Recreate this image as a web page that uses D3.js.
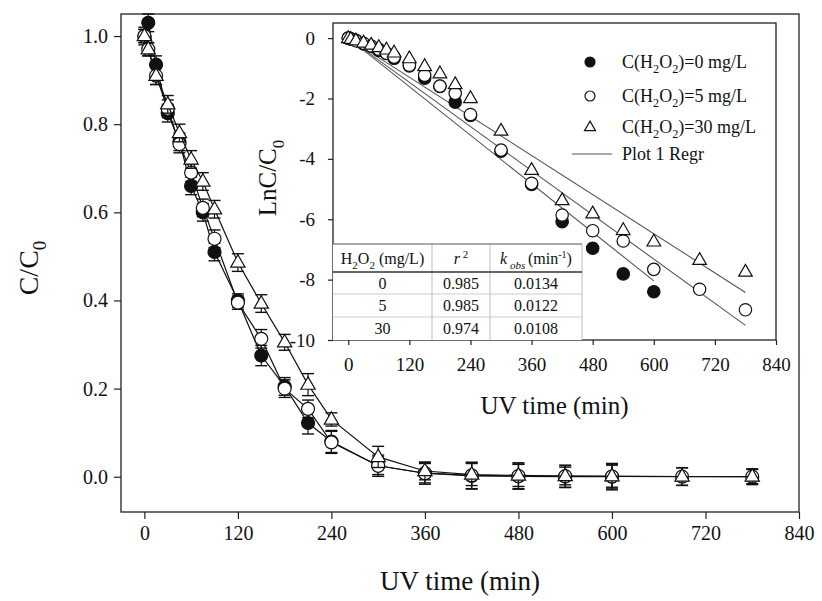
<!DOCTYPE html>
<html>
<head>
<meta charset="utf-8">
<script src="https://cdn.jsdelivr.net/npm/d3@7"></script>
<style>
  body { margin: 0; background: #fff; }
  svg, svg text { font-family: "Liberation Serif", "Times New Roman", "DejaVu Serif", serif; fill: #111; }
</style>
</head>
<body>
<svg id="chart" width="822" height="601" font-family="Liberation Serif, serif"></svg>
<script>
// sampling times (min)
var times = [0, 5, 15, 30, 45, 60, 75, 90, 120, 150, 180, 210, 240, 300, 360, 420, 480, 540, 600, 690, 780];

// C/C0, main panel
var ratio0 = [1.00, 1.03, 0.935, 0.825, 0.76, 0.66, 0.60, 0.51, 0.40, 0.275, 0.205, 0.122, 0.08, 0.025, 0.008, 0.002, 0.001, 0.0004, 0.0002];
var ratio5 = [1.00, 0.97, 0.91, 0.835, 0.755, 0.69, 0.61, 0.54, 0.395, 0.313, 0.20, 0.154, 0.078, 0.025, 0.008, 0.003, 0.0017, 0.0012, 0.0005, 0.0002, 0.0001];
var ratio30 = [1.00, 0.97, 0.91, 0.845, 0.78, 0.72, 0.67, 0.607, 0.486, 0.393, 0.305, 0.209, 0.13, 0.045, 0.013, 0.005, 0.003, 0.0017, 0.0012, 0.0006, 0.0004];

// error bars (+/-)
var err0 = [0.02, 0.02, 0.02, 0.02, 0.02, 0.02, 0.02, 0.02, 0.015, 0.023, 0.02, 0.025, 0.025, 0.02, 0.025, 0.03, 0.028, 0.025, 0.03];
var err5 = [0.015, 0.015, 0.02, 0.02, 0.02, 0.02, 0.02, 0.02, 0.015, 0.021, 0.02, 0.02, 0.025, 0.024, 0.022, 0.03, 0.03, 0.025, 0.028, 0.02, 0.018];
var err30 = [0.015, 0.015, 0.02, 0.02, 0.02, 0.02, 0.02, 0.02, 0.02, 0.02, 0.018, 0.025, 0.015, 0.024, 0.02, 0.025, 0.025, 0.02, 0.025, 0.02, 0.016];

// LnC/C0, inset
var ln0 = [0, -0.02, -0.07, -0.19, -0.27, -0.41, -0.51, -0.67, -0.92, -1.33, -1.60, -2.12, -2.56, -3.75, -4.85, -6.08, -6.96, -7.81, -8.40];
var ln5 = [0, -0.03, -0.09, -0.17, -0.26, -0.37, -0.50, -0.63, -0.90, -1.23, -1.59, -1.83, -2.53, -3.71, -4.81, -5.86, -6.38, -6.72, -7.66, -8.32, -9.00];
var ln30 = [0, -0.03, -0.08, -0.15, -0.22, -0.30, -0.38, -0.48, -0.67, -0.93, -1.17, -1.53, -1.99, -3.07, -4.37, -5.37, -5.81, -6.36, -6.74, -7.35, -7.74];

// regression table
var h2o2Doses = ["0", "5", "30"];
var rSquared = ["0.985", "0.985", "0.974"];
var kObs = [0.0134, 0.0122, 0.0108];
var regrEnd = [600, 780, 780];

var mainXTicks = [0, 120, 240, 360, 480, 600, 720, 840];
var mainYTicks = [0, 0.2, 0.4, 0.6, 0.8, 1.0];
var insetYTicks = [0, -2, -4, -6, -8, -10];

var legendLabels = ["=0 mg/L", "=5 mg/L", "=30 mg/L"];
var shapes = ["filled", "open", "triangle"];

var SERIF = "'Liberation Serif', 'Times New Roman', serif";

var svg = d3.select("#chart");
svg.append("rect").attr("width", 822).attr("height", 601).attr("fill", "#fff");

/**
 * Appends tspans to a text node; parts may be sub/sup/italic.
 */
function addParts(text, parts, size) {
    var cur = 0;
    text.style("font-family", SERIF);
    parts.forEach(function (p) {
        var off = p.sub ? size * 0.3 : (p.sup ? -size * 0.4 : 0);
        var ts = text.append("tspan").attr("dy", off - cur).text(p.t);
        if (p.sub || p.sup) {
            ts.style("font-size", (p.small || size * 0.68) + "px");
        }
        if (p.italic) {
            ts.style("font-style", "italic");
        }
        cur = off;
    });
    return text;
}

function drawMarker(g, shape, x, y, r) {
    if (shape === "triangle") {
        var side = r * 2.2;
        g.append("path")
            .attr("d", d3.symbol().type(d3.symbolTriangle).size(Math.sqrt(3) / 4 * side * side)())
            .attr("transform", "translate(" + x + "," + (y + 0.5) + ")")
            .attr("fill", "#fff").attr("stroke", "#111").attr("stroke-width", 1.2);
    } else {
        g.append("circle").attr("cx", x).attr("cy", y).attr("r", r)
            .attr("fill", shape === "filled" ? "#111" : "#fff")
            .attr("stroke", "#111").attr("stroke-width", 1.2);
    }
}

function styleAxis(a, size) {
    a.attr("font-family", null);
    a.select(".domain").remove();
    a.selectAll(".tick line").attr("stroke", "#222").attr("stroke-width", 1.2);
    a.selectAll(".tick text").style("font-size", size + "px").attr("fill", "#111")
        .style("font-family", SERIF);
}

// ---------- main panel ----------
var main = { left: 121, top: 14, right: 799, bottom: 512 };
var x = d3.scaleLinear().domain([-30, 840]).range([main.left, main.right]);
var y = d3.scaleLinear().domain([-0.08, 1.05]).range([main.bottom, main.top]);

var xAxis = svg.append("g").attr("transform", "translate(0," + main.bottom + ")")
    .call(d3.axisBottom(x).tickValues(mainXTicks).tickSize(7).tickSizeOuter(0).tickPadding(7).tickFormat(d3.format("d")));
var yAxis = svg.append("g").attr("transform", "translate(" + main.left + ",0)")
    .call(d3.axisLeft(y).tickValues(mainYTicks).tickSize(7).tickSizeOuter(0).tickPadding(6).tickFormat(d3.format(".1f")));
styleAxis(xAxis, 20);
styleAxis(yAxis, 20);

svg.append("rect")
    .attr("x", main.left).attr("y", main.top)
    .attr("width", main.right - main.left).attr("height", main.bottom - main.top)
    .attr("fill", "none").attr("stroke", "#222").attr("stroke-width", 1.3);

var mainSeries = [
    { v: ratio0, e: err0 },
    { v: ratio5, e: err5 },
    { v: ratio30, e: err30 }
];
var line = d3.line().x(function (d) { return x(d.t); }).y(function (d) { return y(d.v); });

mainSeries.forEach(function (s, i) {
    var pts = s.v.map(function (v, j) { return { t: times[j], v: v, e: s.e[j] }; });
    var g = svg.append("g");
    g.append("path").datum(pts).attr("d", line)
        .attr("fill", "none").attr("stroke", "#111").attr("stroke-width", 1.2);
    pts.forEach(function (p) {
        var cx = x(p.t), y1 = y(p.v + p.e), y2 = y(p.v - p.e);
        g.append("line").attr("x1", cx).attr("x2", cx).attr("y1", y1).attr("y2", y2)
            .attr("stroke", "#111").attr("stroke-width", 1.2);
        [y1, y2].forEach(function (cy) {
            g.append("line").attr("x1", cx - 6).attr("x2", cx + 6).attr("y1", cy).attr("y2", cy)
                .attr("stroke", "#111").attr("stroke-width", 1.4);
        });
    });
    pts.forEach(function (p) {
        drawMarker(g, shapes[i], x(p.t), y(p.v), 6.5);
    });
});

addParts(svg.append("text").attr("x", (main.left + main.right) / 2).attr("y", 590)
    .attr("text-anchor", "middle").style("font-size", "27px"), [{ t: "UV time (min)" }], 27);
addParts(svg.append("text").attr("transform", "translate(38,268) rotate(-90)")
    .attr("text-anchor", "middle").style("font-size", "28px"), [{ t: "C/C" }, { t: "0", sub: true }], 28);

// ---------- inset ----------
var ins = { left: 333, top: 23, right: 776, bottom: 340 };
var ix = d3.scaleLinear().domain([-30, 840]).range([ins.left, ins.right]);
var iy = d3.scaleLinear().domain([-10, 0.5]).range([ins.bottom, ins.top]);

svg.append("rect")
    .attr("x", ins.left).attr("y", ins.top)
    .attr("width", ins.right - ins.left).attr("height", ins.bottom - ins.top)
    .attr("fill", "#fff");

var ixAxis = svg.append("g").attr("transform", "translate(0," + ins.bottom + ")")
    .call(d3.axisBottom(ix).tickValues(mainXTicks).tickSize(5).tickSizeOuter(0).tickPadding(13).tickFormat(d3.format("d")));
var iyAxis = svg.append("g").attr("transform", "translate(" + ins.left + ",0)")
    .call(d3.axisLeft(iy).tickValues(insetYTicks).tickSize(5).tickSizeOuter(0).tickPadding(13).tickFormat(function (d) { return String(d); }));
styleAxis(ixAxis, 19);
styleAxis(iyAxis, 19);

var insetSeries = [ln0, ln5, ln30];

// regression lines
insetSeries.forEach(function (s, i) {
    var ends = [0, regrEnd[i]].map(function (t) { return { t: t, v: -kObs[i] * t }; });
    svg.append("path").datum(ends)
        .attr("d", d3.line().x(function (d) { return ix(d.t); }).y(function (d) { return iy(d.v); }))
        .attr("fill", "none").attr("stroke", "#555").attr("stroke-width", 1.1);
});

insetSeries.forEach(function (s, i) {
    var g = svg.append("g");
    s.forEach(function (v, j) {
        drawMarker(g, shapes[i], ix(times[j]), iy(v), 6.2);
    });
});

svg.append("rect")
    .attr("x", ins.left).attr("y", ins.top)
    .attr("width", ins.right - ins.left).attr("height", ins.bottom - ins.top)
    .attr("fill", "none").attr("stroke", "#222").attr("stroke-width", 1.3);

// table
var tbl = { left: ins.left, top: 244, head: 272, right: 582 };
var colEdges = [tbl.left, 432, 490, tbl.right];
var rowEdges = [tbl.head, 294, 317, ins.bottom];
var tg = svg.append("g");
tg.append("rect").attr("x", tbl.left).attr("y", tbl.top)
    .attr("width", tbl.right - tbl.left).attr("height", ins.bottom - tbl.top).attr("fill", "#fff");
colEdges.slice(1).forEach(function (cx) {
    tg.append("line").attr("x1", cx).attr("x2", cx).attr("y1", tbl.top).attr("y2", ins.bottom)
        .attr("stroke", "#b8bccc").attr("stroke-width", 1);
});
rowEdges.slice(1, 3).forEach(function (ry) {
    tg.append("line").attr("x1", tbl.left).attr("x2", tbl.right).attr("y1", ry).attr("y2", ry)
        .attr("stroke", "#c8ccd8").attr("stroke-width", 1);
});
tg.append("line").attr("x1", tbl.left).attr("x2", tbl.right).attr("y1", tbl.top).attr("y2", tbl.top)
    .attr("stroke", "#555").attr("stroke-width", 1.2);
tg.append("line").attr("x1", tbl.left).attr("x2", tbl.right).attr("y1", tbl.head).attr("y2", tbl.head)
    .attr("stroke", "#333").attr("stroke-width", 1.6);

var colMid = colEdges.slice(0, 3).map(function (c, i) { return (c + colEdges[i + 1]) / 2; });
var headParts = [
    [{ t: "H" }, { t: "2", sub: true, small: 11 }, { t: "O" }, { t: "2", sub: true, small: 11 }, { t: " (mg/L)" }],
    [{ t: "r", italic: true }, { t: " 2", sup: true, small: 11 }],
    [{ t: "k", italic: true }, { t: " obs ", sub: true, italic: true, small: 11 }, { t: "(min" }, { t: "-1", sup: true, small: 10 }, { t: ")" }]
];
headParts.forEach(function (parts, i) {
    addParts(tg.append("text").attr("x", colMid[i]).attr("y", 264)
        .attr("text-anchor", "middle").style("font-size", "16px"), parts, 16);
});
h2o2Doses.forEach(function (dose, r) {
    var cy = (rowEdges[r] + rowEdges[r + 1]) / 2 + 5.5;
    [dose, rSquared[r], d3.format(".4f")(kObs[r])].forEach(function (val, c) {
        tg.append("text").attr("x", colMid[c]).attr("y", cy)
            .attr("text-anchor", "middle").style("font-size", "16px")
            .style("font-family", SERIF).text(val);
    });
});

// legend
var legY = [62, 96, 127];
var lg = svg.append("g");
legendLabels.forEach(function (lab, i) {
    drawMarker(lg, shapes[i], 590, legY[i], 5);
    addParts(lg.append("text").attr("x", 622).attr("y", legY[i] + 6).style("font-size", "18px"),
        [{ t: "C(H" }, { t: "2", sub: true }, { t: "O" }, { t: "2", sub: true }, { t: ")" + lab }], 18);
});
lg.append("line").attr("x1", 572).attr("x2", 612).attr("y1", 154).attr("y2", 154)
    .attr("stroke", "#555").attr("stroke-width", 1.1);
addParts(lg.append("text").attr("x", 622).attr("y", 160).style("font-size", "18px"), [{ t: "Plot 1 Regr" }], 18);

// inset titles
addParts(svg.append("text").attr("x", (ins.left + ins.right) / 2).attr("y", 414)
    .attr("text-anchor", "middle").style("font-size", "25px"), [{ t: "UV time (min)" }], 25);
addParts(svg.append("text").attr("transform", "translate(276,178) rotate(-90)")
    .attr("text-anchor", "middle").style("font-size", "25px"), [{ t: "LnC/C" }, { t: "0", sub: true }], 25);
</script>
</body>
</html>
